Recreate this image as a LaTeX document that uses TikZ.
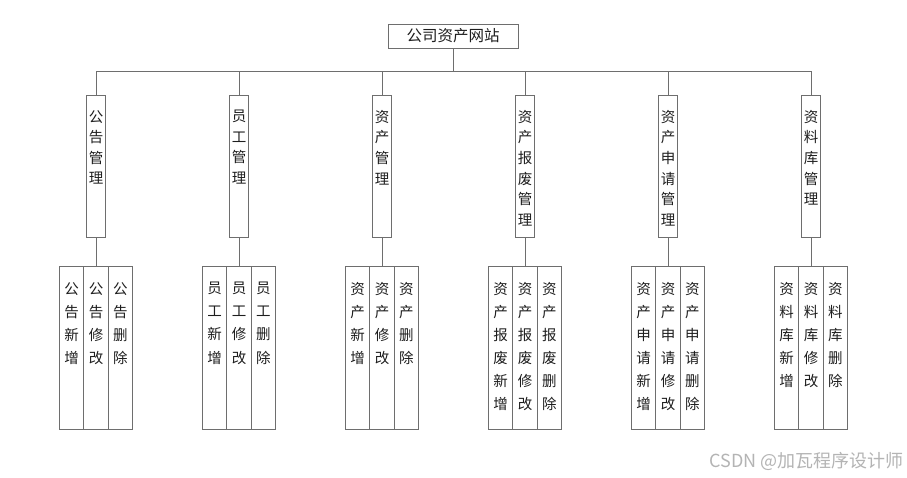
\documentclass[tikz,border=0pt]{standalone}
\usepackage{fontspec}
\newfontfamily\cjk{Noto Sans CJK SC}
\usetikzlibrary{calc}
\definecolor{ln}{HTML}{6E6E6E}
\definecolor{tx}{HTML}{1E1E1E}
\definecolor{wm}{HTML}{B4B4B4}
\tikzset{
  topbox/.style={draw=ln, line width=0.9pt, minimum width=130pt, minimum height=24pt, inner sep=0pt, font=\cjk\fontsize{15.5}{17}\selectfont, text=tx},
  midbox/.style={draw=ln, line width=0.9pt, minimum width=19pt, minimum height=142pt, inner sep=0pt},
  leafbox/.style={draw=ln, line width=0.9pt, minimum width=24.3pt, minimum height=163pt, inner sep=0pt},
  midtext/.style={anchor=north, inner sep=0pt, align=center, text=tx, font=\cjk\fontsize{14.5}{20.6}\selectfont},
  leaftext/.style={anchor=north, inner sep=0pt, align=center, text=tx, font=\cjk\fontsize{14.5}{23.1}\selectfont},
  conn/.style={draw=ln, line width=0.9pt}
}
\newcommand{\branch}[6]{%
  % #1 name, #2 x, #3 mid text, #4 leaf1, #5 leaf2, #6 leaf3
  \node[midbox] (#1) at (#2,166) {};
  \node[midtext] (#1t) at ($(#1.north)+(0,15.5)$) {#3};
  \node[leafbox] (#1b) at (#2,347.5) {};
  \node[leafbox] (#1a) at ($(#1b)+(-24.3,0)$) {};
  \node[leafbox] (#1c) at ($(#1b)+(24.3,0)$) {};
  \node[leaftext] (#1at) at ($(#1a.north)+(0,16.5)$) {#4};
  \node[leaftext] (#1bt) at ($(#1b.north)+(0,16.5)$) {#5};
  \node[leaftext] (#1ct) at ($(#1c.north)+(0,16.5)$) {#6};
  \coordinate (#1bus) at (#2,71);
  \draw[conn] (#1bus) -- (#1.north);
  \draw[conn] (#1.south) -- (#1b.north);
}
\begin{document}
\begin{tikzpicture}[x=1pt,y=-1pt]
\useasboundingbox (0,0) rectangle (907,477);
\fill[white] (0,0) rectangle (907,477);
\node[topbox] (root) at (453,36) {公司资产网站};
\coordinate (rootbus) at (453,71);
\draw[conn] (root.south) -- (rootbus);
\branch{g}{96}{公\\告\\管\\理}{公\\告\\新\\增}{公\\告\\修\\改}{公\\告\\删\\除}
\branch{y}{239}{员\\工\\管\\理}{员\\工\\新\\增}{员\\工\\修\\改}{员\\工\\删\\除}
\branch{z}{382}{资\\产\\管\\理}{资\\产\\新\\增}{资\\产\\修\\改}{资\\产\\删\\除}
\branch{b}{525}{资\\产\\报\\废\\管\\理}{资\\产\\报\\废\\新\\增}{资\\产\\报\\废\\修\\改}{资\\产\\报\\废\\删\\除}
\branch{s}{668}{资\\产\\申\\请\\管\\理}{资\\产\\申\\请\\新\\增}{资\\产\\申\\请\\修\\改}{资\\产\\申\\请\\删\\除}
\branch{k}{811}{资\\料\\库\\管\\理}{资\\料\\库\\新\\增}{资\\料\\库\\修\\改}{资\\料\\库\\删\\除}
\draw[conn] (gbus) -- (kbus);
\node[anchor=east, inner sep=0pt, text=wm, font=\cjk\fontsize{18}{20}\selectfont] (wmk) at (904,461) {CSDN @加瓦程序设计师};
\end{tikzpicture}
\end{document}
